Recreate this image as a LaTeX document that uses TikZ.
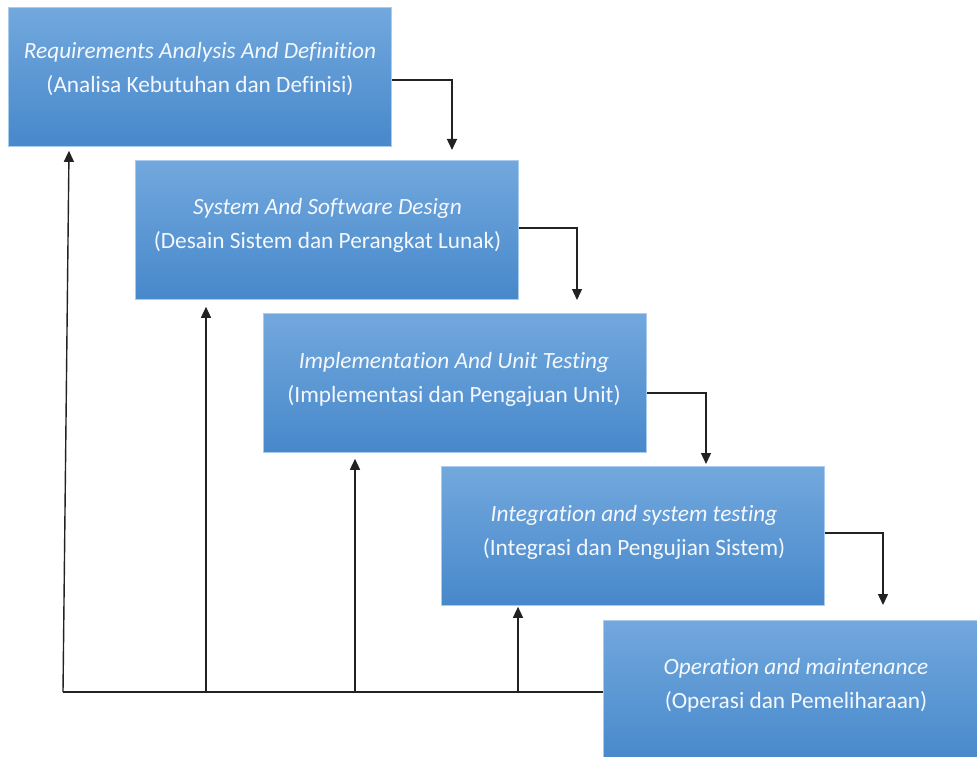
\documentclass[tikz,border=0pt]{standalone}
\usepackage{fontspec}
\setmainfont[Ligatures=NoCommon]{Carlito}
\usetikzlibrary{arrows.meta,calc}
\definecolor{boxtop}{HTML}{72A8DD}
\definecolor{boxbot}{HTML}{4788CB}
\definecolor{boxedge}{HTML}{A9CBEC}
\definecolor{linec}{HTML}{222222}
\definecolor{txt}{HTML}{F4F8FC}
\tikzset{
  stage/.style={draw=boxedge, line width=0.8pt, top color=boxtop, bottom color=boxbot,
    minimum width=383pt, minimum height=139pt, inner sep=0pt, anchor=north west},
  stagetext/.style={align=center, text=txt, anchor=base, inner sep=0pt, font=\fontsize{23.3}{34}\selectfont},
  flow/.style={draw=linec, line width=1.4pt, -{Triangle[length=11pt,width=10pt]}},
  back/.style={draw=linec, line width=1.4pt},
}
\begin{document}
\begin{tikzpicture}[x=1pt,y=-1pt]
\useasboundingbox (0,0) rectangle (977,757);
% boxes
\node[stage] (b1) at (8,7) {};
\node[stage] (b2) at (135,160) {};
\node[stage] (b3) at (263,313) {};
\node[stage] (b4) at (441,466) {};
\node[stage, minimum width=380pt, minimum height=142pt] (b5) at (603,620) {};
% texts (anchor = baseline of the second line)
\node[stagetext] (t1) at (200,93) {\textit{Requirements Analysis And Definition}\\(Analisa Kebutuhan dan Definisi)};
\node[stagetext] (t2) at (327.5,248) {\textit{System And Software Design}\\(Desain Sistem dan Perangkat Lunak)};
\node[stagetext] (t3) at (454,402) {\textit{Implementation And Unit Testing}\\(Implementasi dan Pengajuan Unit)};
\node[stagetext] (t4) at (634,555) {\textit{Integration and system testing}\\(Integrasi dan Pengujian Sistem)};
\node[stagetext] (t5) at (796,708) {\textit{Operation and maintenance}\\(Operasi dan Pemeliharaan)};
% forward arrows
\coordinate (c1) at (452,80);
\coordinate (c2) at (577,228);
\coordinate (c3) at (706,393);
\coordinate (c4) at (883,533);
\draw[flow] (b1.east |- c1) -- (c1) -- ([yshift=10pt]c1 |- b2.north);
\draw[flow] (b2.east |- c2) -- (c2) -- ([yshift=13pt]c2 |- b3.north);
\draw[flow] (b3.east |- c3) -- (c3) -- ([yshift=2pt]c3 |- b4.north);
\draw[flow] (b4.east |- c4) -- (c4) -- ([yshift=15pt]c4 |- b5.north) ;
% feedback
\coordinate (f0) at (63,692);
\coordinate (f2) at (206,692);
\coordinate (f3) at (355,692);
\coordinate (f4) at (518,692);
\draw[back] (b5.west |- f0) -- (f0);
\draw[flow] (f0) -- ([xshift=6pt,yshift=-4pt]f0 |- b1.south);
\draw[flow] (f2) -- ([yshift=-7pt]f2 |- b2.south);
\draw[flow] (f3) -- ([yshift=-6pt]f3 |- b3.south);
\draw[flow] (f4) -- ([yshift=-1pt]f4 |- b4.south);
\end{tikzpicture}
\end{document}
